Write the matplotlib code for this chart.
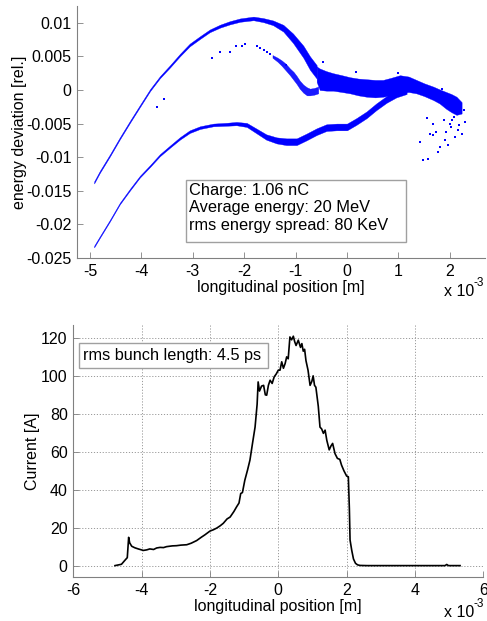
import matplotlib
matplotlib.use("Agg")
import matplotlib.pyplot as plt
from matplotlib.patches import Rectangle

plt.rcParams['font.family'] = ['Liberation Sans', 'DejaVu Sans']
plt.rcParams['font.size'] = 11.5

# ---------------- top panel data (x in units of 1e-3 m) ----------------
# upper main branch: centre, half width
upA_x = [-4.92, -4.81, -4.61, -4.42, -4.22, -4.03, -3.83, -3.64, -3.44, -3.25, -3.06, -2.86,
         -2.67, -2.47, -2.28, -2.08, -1.82, -1.63, -1.44, -1.24, -1.05, -0.85, -0.72, -0.59]
upA_y = [-0.01376, -0.0122, -0.0097, -0.0072, -0.0047, -0.0024, 0.0000, 0.0019, 0.00355, 0.0052,
         0.0067, 0.0078, 0.0088, 0.0095, 0.0100, 0.0104, 0.01065, 0.0104, 0.0100, 0.0092, 0.0077,
         0.0057, 0.0040, 0.0027]
upA_w = [0.00015, 0.00015, 0.00015, 0.00015, 0.00015, 0.00015, 0.00015, 0.00015, 0.00017, 0.00018,
         0.0002, 0.0002, 0.0002, 0.00022, 0.00024, 0.00025, 0.00027, 0.0003, 0.00035, 0.0005,
         0.0007, 0.0009, 0.0010, 0.0010]

# inner (second) upper branch
inB_x = [-1.45, -1.35, -1.27, -1.19, -1.11, -1.04, -0.98, -0.92, -0.85, -0.78, -0.72, -0.64, -0.56]
inB_y = [0.0050, 0.0045, 0.0040, 0.0034, 0.0027, 0.0021, 0.0015, 0.0008, 0.0002, -0.0002,
         -0.0003, -0.0002, 0.0000]
inB_w = [0.0002, 0.0003, 0.0004, 0.0005, 0.0005, 0.0006, 0.0006, 0.0006, 0.0006, 0.0006,
         0.0005, 0.0005, 0.0005]
inB_dots_x = [-2.63, -2.48, -2.28, -2.16, -1.98, -2.05, -1.76, -1.70, -1.56, -1.50, -1.62]
inB_dots_y = [0.0048, 0.0057, 0.0057, 0.0066, 0.0068, 0.0066, 0.0065, 0.0063, 0.0057, 0.0054, 0.0060]

# dense core region
core_x = [-0.59, -0.53, -0.40, -0.27, -0.10, 0.06, 0.22, 0.38, 0.55, 0.70, 0.85, 1.03, 1.20,
          1.35, 1.50, 1.68, 1.80, 1.93, 2.03, 2.13, 2.23]
core_top = [0.0035, 0.0032, 0.0028, 0.0025, 0.0022, 0.0019, 0.0017, 0.0016, 0.0015, 0.0015,
            0.0018, 0.0022, 0.0020, 0.0015, 0.0010, 0.0005, 0.0001, -0.0003, -0.0006, -0.0010,
            -0.0018]
core_bot = [0.0012, 0.0000, -0.0001, -0.0001, -0.0003, -0.0005, -0.0008, -0.0010, -0.0011,
            -0.0010, -0.0008, -0.0004, -0.0003, -0.0005, -0.0009, -0.0015, -0.0020, -0.0028,
            -0.0033, -0.0037, -0.0035]

# lower branch
loC_x = [-4.92, -4.81, -4.61, -4.42, -4.22, -4.03, -3.83, -3.64, -3.44, -3.25, -3.06, -2.86,
         -2.60, -2.34, -2.15, -1.95, -1.76, -1.57, -1.37, -1.18, -0.98, -0.79, -0.59, -0.40,
         -0.20, 0.00, 0.18, 0.38, 0.57, 0.77, 0.96, 1.16]
loC_y = [-0.0233, -0.0219, -0.0194, -0.0169, -0.0148, -0.0129, -0.0113, -0.0097, -0.0084,
         -0.0072, -0.0062, -0.0056, -0.0052, -0.0051, -0.0050, -0.0052, -0.0061, -0.0070,
         -0.0075, -0.0077, -0.0077, -0.0070, -0.0062, -0.0056, -0.0055, -0.0055, -0.0047,
         -0.0037, -0.0025, -0.0014, -0.0006, -0.0001]
loC_w = [0.00012, 0.00012, 0.00012, 0.00012, 0.00013, 0.00013, 0.00014, 0.00015, 0.00016,
         0.00018, 0.0002, 0.0002, 0.0002, 0.00022, 0.00025, 0.0003, 0.00035, 0.0004, 0.00045,
         0.0005, 0.0005, 0.0005, 0.0005, 0.0005, 0.0005, 0.0005, 0.0005, 0.0005, 0.0005,
         0.0005, 0.0005, 0.0005]

# scattered particles
stray_x = [-3.57, -3.69, 1.48, 1.58, 1.42, 1.61, 1.68, 1.77, 1.80, 1.90, 1.93, 2.03, 2.23, 2.29,
           2.28, 1.74, 1.68, 1.55, 1.84, 0.18, 0.99, -0.46, -1.18, 2.04, 2.08, 2.00, 2.15, 2.18,
           1.88, 1.97, 2.10]
stray_y = [-0.0013, -0.0025, -0.0104, -0.0102, -0.0077, -0.0065, -0.0067, -0.0092, -0.0085,
           -0.0075, -0.0062, -0.0055, -0.0065, -0.0047, -0.0030, -0.0062, -0.0050, -0.0042,
           0.0002, 0.0027, 0.0026, 0.0042, 0.0037, -0.0045, -0.0040, -0.0050, -0.0060, -0.0052,
           -0.0045, -0.0082, -0.0070]

top_xticks = [-5, -4, -3, -2, -1, 0, 1, 2]
top_yticks = [0.01, 0.005, 0, -0.005, -0.01, -0.015, -0.02, -0.025]
top_yticklabels = ['0.01', '0.005', '0', '-0.005', '-0.01', '-0.015', '-0.02', '-0.025']
info_lines = ['Charge: 1.06 nC', 'Average energy: 20 MeV', 'rms energy spread: 80 KeV']

# ---------------- bottom panel data ----------------
cur_x = [-4.78, -4.59, -4.48, -4.42, -4.38, -4.35, -4.29, -4.2, -4.1, -3.95, -3.85, -3.76, -3.65,
         -3.56, -3.46, -3.36, -3.27, -3.1, -2.98, -2.85, -2.68, -2.55, -2.39, -2.25, -2.15, -2.0,
         -1.9, -1.8, -1.7, -1.61, -1.5, -1.41, -1.3, -1.22, -1.15, -1.1, -1.05, -0.98, -0.9,
         -0.83, -0.75, -0.68, -0.62, -0.59, -0.55, -0.49, -0.43, -0.38, -0.34, -0.29, -0.24,
         -0.18, -0.12, -0.06, 0.0, 0.05, 0.1, 0.15, 0.2, 0.245, 0.29, 0.34, 0.39, 0.44, 0.48,
         0.52, 0.585, 0.65, 0.69, 0.73, 0.77, 0.81, 0.87, 0.93, 0.98, 1.02, 1.06, 1.10, 1.17,
         1.22, 1.27, 1.32, 1.37, 1.42, 1.49, 1.54, 1.59, 1.66, 1.73, 1.80, 1.85, 1.92, 2.0, 2.05,
         2.08, 2.10, 2.15, 2.2, 2.26, 2.32, 2.39, 2.6, 3.0, 3.5, 4.0, 4.5, 4.88, 4.93, 4.98, 5.32]
cur_I = [0, 0.7, 3, 4.2, 14.9, 12, 10.2, 9.4, 8.8, 8.0, 8.3, 8.8, 8.5, 9.3, 9.6, 9.5, 10.0, 10.4,
         10.5, 10.8, 11.0, 11.8, 13.2, 15.0, 16.2, 18.2, 18.9, 19.8, 21.0, 22.3, 24.6, 25.6, 28.5,
         31, 33, 38, 38.5, 45, 50.4, 55.6, 65, 73, 85, 96.8, 92, 94.6, 95, 90, 89.8, 95, 97.7, 96,
         99.5, 101, 103, 103, 107.4, 104, 106.5, 110, 109, 120.5, 119, 120.9, 118, 116, 118.8,
         115, 117, 113, 114, 108, 103, 95, 97, 100, 95, 94, 84, 73, 72, 69.7, 71.4, 66, 61, 63,
         64.4, 59, 56.5, 56, 53, 50, 47.2, 46.8, 30, 13.5, 8, 3.5, 1.2, 0.4, 0.1, 0, 0, 0, 0, 0,
         0, 0.6, 0, 0]
bot_xticks = [-6, -4, -2, 0, 2, 4, 6]
bot_yticks = [0, 20, 40, 60, 80, 100, 120]
bunch_label = 'rms bunch length: 4.5 ps'

BLUE = (0, 0, 1)
FS = 11.5
W, H = 487, 621
fig = plt.figure(figsize=(W / 100, H / 100), dpi=100)


def exponent_label(x_px, y_px):
    fig.text(x_px / W, 1 - y_px / H, 'x 10', fontsize=FS, va='baseline', ha='left')
    fig.text((x_px + 29) / W, 1 - (y_px - 10) / H, '-3', fontsize=8.5, va='baseline', ha='left')


# ================= top panel =================
ax1 = fig.add_axes([77 / W, 1 - 258 / H, 408 / W, 252 / H])
ax1.fill_between(upA_x, [y - w for y, w in zip(upA_y, upA_w)],
                 [y + w for y, w in zip(upA_y, upA_w)], color=BLUE, lw=0.25)
ax1.fill_between(inB_x, [y - w for y, w in zip(inB_y, inB_w)],
                 [y + w for y, w in zip(inB_y, inB_w)], color=BLUE, lw=0.25, alpha=0.9)
ax1.fill_between(core_x, core_bot, core_top, color=BLUE, lw=0.25)
ax1.fill_between(loC_x, [y - w for y, w in zip(loC_y, loC_w)],
                 [y + w for y, w in zip(loC_y, loC_w)], color=BLUE, lw=0.25)
ax1.plot(inB_dots_x, inB_dots_y, ls='none', marker='s', ms=1.6, color=BLUE, mew=0)
ax1.plot(stray_x, stray_y, ls='none', marker='s', ms=1.6, color=BLUE, mew=0)

ax1.set_xlim(-5.253, 2.685)
ax1.set_ylim(-0.025, 0.0125)
ax1.set_xticks(top_xticks)
ax1.set_xticklabels([str(t) for t in top_xticks])
ax1.set_yticks(top_yticks)
ax1.set_yticklabels(top_yticklabels)
for s in ['top', 'right']:
    ax1.spines[s].set_visible(False)
for s in ['left', 'bottom']:
    ax1.spines[s].set_color('#808080')
    ax1.spines[s].set_linewidth(0.8)
ax1.tick_params(direction='in', length=4, width=0.6, color='#808080', labelsize=FS, pad=4)
ax1.set_xlabel('longitudinal position [m]', fontsize=FS, labelpad=1)
ax1.set_ylabel('energy deviation [rel.]', fontsize=FS, labelpad=-1)
ax1.add_patch(Rectangle((0.267, 0.063), 0.539, 0.246, transform=ax1.transAxes,
                        fc='white', ec='#a0a0a0', lw=1.0, zorder=5))
ax1.text(0.2745, 0.298, '\n'.join(info_lines), transform=ax1.transAxes, va='top', ha='left',
         fontsize=11.8, zorder=6, linespacing=1.2)
exponent_label(444, 296)

# ================= bottom panel =================
ax2 = fig.add_axes([73.3 / W, 1 - 577 / H, 410 / W, 252 / H])
ax2.plot(cur_x, cur_I, color='black', lw=1.2)
ax2.set_xlim(-6, 6)
ax2.set_ylim(-6, 126.8)
ax2.set_xticks(bot_xticks)
ax2.set_xticklabels([str(t) for t in bot_xticks])
ax2.set_yticks(bot_yticks)
ax2.grid(True, ls=(0, (1.2, 1.8)), color='#9a9a9a', lw=0.7)
for s in ['top', 'right']:
    ax2.spines[s].set_visible(False)
for s in ['left', 'bottom']:
    ax2.spines[s].set_color('#808080')
    ax2.spines[s].set_linewidth(0.8)
ax2.tick_params(direction='in', length=4, width=0.6, color='#808080', labelsize=FS, pad=4)
ax2.set_xlabel('longitudinal position [m]', fontsize=FS, labelpad=1)
ax2.set_ylabel('Current [A]', fontsize=FS, labelpad=1)
ax2.add_patch(Rectangle((0.014, 0.830), 0.462, 0.099, transform=ax2.transAxes,
                        fc='white', ec='#a0a0a0', lw=1.0, zorder=5))
ax2.text(0.023, 0.880, bunch_label, transform=ax2.transAxes, va='center', ha='left',
         fontsize=11.7, zorder=6)
exponent_label(444, 617)

fig.savefig('out.png', dpi=100)
